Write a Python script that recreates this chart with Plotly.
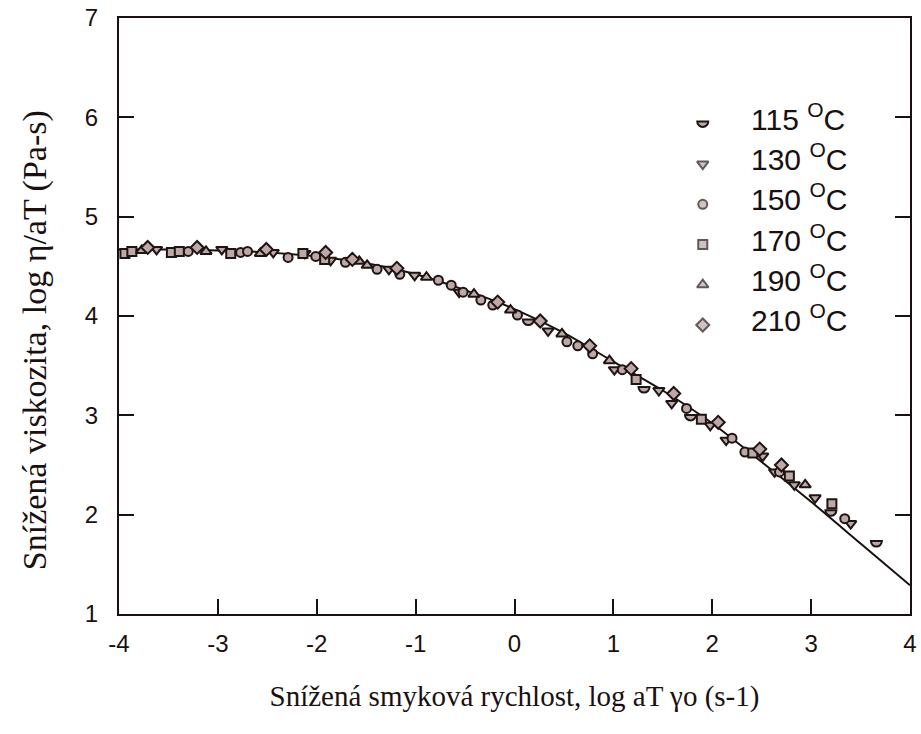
import plotly.graph_objects as go

# Master curve (reduced viscosity vs reduced shear rate)
curve_x = [-4.0, -3.5, -3.0, -2.5, -2.0, -1.5, -1.0, -0.5, 0.0, 0.5, 1.0, 1.5, 2.0, 2.5, 3.0, 3.5, 4.0]
curve_y = [4.67, 4.67, 4.66, 4.64, 4.60, 4.53, 4.42, 4.26, 4.07, 3.83, 3.54, 3.25, 2.92, 2.53, 2.13, 1.71, 1.29]

# Measured points per temperature
t115_x = [0.14, 1.31, 1.78, 3.20, 3.66]
t115_y = [3.94, 3.26, 2.98, 2.02, 1.71]

t130_x = [-3.62, -2.96, -2.44, -2.12, -1.86, -1.27, -1.01, -0.56, 0.34, 1.01, 1.46, 1.59, 1.98, 2.14, 2.51, 2.63, 2.83, 3.04, 3.40]
t130_y = [4.67, 4.67, 4.64, 4.63, 4.56, 4.47, 4.41, 4.24, 3.85, 3.46, 3.25, 3.12, 2.90, 2.75, 2.59, 2.43, 2.30, 2.17, 1.91]

t150_x = [-3.30, -2.77, -2.70, -2.29, -2.01, -1.71, -1.39, -1.16, -0.77, -0.64, -0.52, -0.34, -0.22, 0.03, 0.53, 0.64, 0.79, 1.09, 1.74, 2.20, 2.33, 2.68, 3.34]
t150_y = [4.65, 4.64, 4.65, 4.59, 4.60, 4.54, 4.47, 4.42, 4.36, 4.31, 4.24, 4.16, 4.11, 4.01, 3.74, 3.70, 3.62, 3.46, 3.07, 2.77, 2.63, 2.43, 1.96]

t170_x = [-3.94, -3.87, -3.47, -3.39, -2.87, -2.14, -1.92, 1.23, 1.89, 2.41, 2.78, 3.21]
t170_y = [4.63, 4.65, 4.64, 4.65, 4.63, 4.63, 4.57, 3.36, 2.96, 2.62, 2.39, 2.11]

t190_x = [-3.77, -3.12, -2.57, -1.57, -1.49, -0.89, -0.41, -0.04, 0.48, 0.96, 2.94]
t190_y = [4.66, 4.65, 4.63, 4.55, 4.51, 4.39, 4.22, 4.06, 3.82, 3.55, 2.30]

t210_x = [-3.71, -3.21, -2.51, -1.91, -1.64, -1.19, -0.17, 0.26, 0.76, 1.18, 1.61, 2.06, 2.48, 2.70]
t210_y = [4.69, 4.69, 4.67, 4.64, 4.57, 4.48, 4.14, 3.95, 3.70, 3.47, 3.22, 2.93, 2.66, 2.50]

legend_labels = ["115", "130", "150", "170", "190", "210"]

x_ticks = [-4, -3, -2, -1, 0, 1, 2, 3, 4]
x_ticktext = ["-4", "-3", "-2", "-1", "0", "1", "2", "3", "4"]
y_ticks = [1, 2, 3, 4, 5, 6, 7]
y_ticktext = ["1", "2", "3", "4", "5", "6", "7"]

EDGE = "#1e1414"
FILL = "#bda8a5"
INK = "#1a1010"
MW = 2.0

fig = go.Figure()

fig.add_trace(go.Scatter(x=curve_x, y=curve_y, mode="lines",
                         line=dict(color=INK, width=2, shape="spline", smoothing=0.6),
                         showlegend=False, hoverinfo="skip"))

series = [
    (t130_x, t130_y, "triangle-down"),
    (t150_x, t150_y, "circle"),
    (t170_x, t170_y, "square"),
    (t190_x, t190_y, "triangle-up"),
    (t210_x, t210_y, "diamond"),
]
sizes = {"triangle-down": 10, "circle": 9, "square": 9, "triangle-up": 10, "diamond": 10}
for xs, ys, sym in series:
    fig.add_trace(go.Scatter(x=xs, y=ys, mode="markers", showlegend=False,
                             marker=dict(symbol=sym, size=sizes[sym], color=FILL,
                                         line=dict(color=EDGE, width=MW))))


def half_disc_path(r=5.5, top=2.4):
    k = 0.5523 * r
    return (f"M {-r},{top} L {r},{top} "
            f"C {r},{top - k} {k},{top - r} 0,{top - r} "
            f"C {-k},{top - r} {-r},{top - k} {-r},{top} Z")


# 115 °C points: half-disc symbols anchored at the data values
fig.add_trace(go.Scatter(x=t115_x, y=t115_y, mode="markers", showlegend=False,
                         marker=dict(size=10, opacity=0)))
shapes = []
for xv, yv in zip(t115_x, t115_y):
    shapes.append(dict(type="path", xref="x", yref="y", xsizemode="pixel", ysizemode="pixel",
                       xanchor=xv, yanchor=yv, path=half_disc_path(),
                       fillcolor=FILL, line=dict(color=EDGE, width=MW), layer="above"))

# Legend block (keys on an overlay axis spanning the plot area)
key_x = 0.738
text_x = 0.797
row_text_y = [(614 - (116 + 40.3 * i)) / 597 for i in range(6)]
row_key_y = [v - 7 / 597 for v in row_text_y]
key_symbols = ["circle", "triangle-down", "circle", "square", "triangle-up", "diamond"]
fig.add_trace(go.Scatter(x=[key_x] * 5, y=row_key_y[1:], xaxis="x2", yaxis="y2",
                         mode="markers", showlegend=False, hoverinfo="skip",
                         marker=dict(symbol=key_symbols[1:], size=[sizes[s] for s in key_symbols[1:]],
                                     color=FILL, line=dict(color=EDGE, width=MW))))
shapes.append(dict(type="path", xref="paper", yref="paper", xsizemode="pixel", ysizemode="pixel",
                   xanchor=key_x, yanchor=row_key_y[0], path=half_disc_path(),
                   fillcolor=FILL, line=dict(color=EDGE, width=MW), layer="above"))

annotations = []
for lab, ty in zip(legend_labels, row_text_y):
    annotations.append(dict(x=text_x, y=ty, xref="paper", yref="paper", xanchor="left",
                            yanchor="middle", showarrow=False,
                            text=f"{lab} <sup>O</sup>C",
                            font=dict(family="Liberation Sans, Arial", size=30, color=INK)))

# Vertical axis title
annotations.append(dict(x=-(119 - 35) / 798, y=(614 - 340) / 597, xref="paper", yref="paper",
                        xanchor="center", yanchor="middle", showarrow=False, textangle=-90,
                        text="Snížená viskozita, log η/aT (Pa-s)",
                        font=dict(family="Liberation Serif, Times New Roman", size=34, color=INK)))

axis_common = dict(showgrid=False, zeroline=False, showline=True, linecolor=INK, linewidth=2,
                   ticks="inside", tickcolor=INK, tickwidth=1.8, ticklabeloverflow="allow",
                   tickfont=dict(family="Liberation Sans, Arial", size=24, color=INK))

fig.update_layout(
    width=921, height=734,
    margin=dict(l=119, r=4, t=17, b=120),
    paper_bgcolor="white", plot_bgcolor="white",
    shapes=shapes, annotations=annotations,
    xaxis=dict(range=[-4, 4], tickvals=x_ticks, ticktext=x_ticktext, ticklen=15, mirror=True,
               ticklabelstandoff=7,
               title=dict(text="Snížená smyková rychlost, log aT γo (s-1)", standoff=30,
                          font=dict(family="Liberation Serif, Times New Roman", size=29, color=INK)),
               **axis_common),
    yaxis=dict(range=[1, 7], tickvals=y_ticks, ticktext=y_ticktext, ticklen=15, mirror="ticks",
               ticklabelstandoff=14, **axis_common),
    xaxis2=dict(range=[0, 1], overlaying="x", visible=False, fixedrange=True),
    yaxis2=dict(range=[0, 1], overlaying="y", visible=False, fixedrange=True),
)

fig.write_html("out.html")
